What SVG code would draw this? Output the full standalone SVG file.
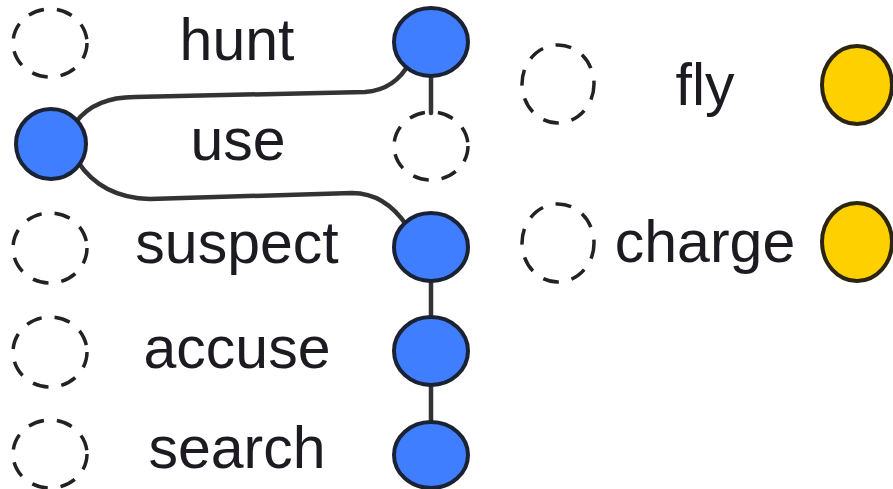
<svg xmlns="http://www.w3.org/2000/svg" width="893" height="489" viewBox="0 0 893 489">
<style>
.lbl{font-family:"Liberation Sans",Arial,sans-serif;font-size:59px;fill:#1e1a22;text-anchor:middle}
.dash{fill:none;stroke:#222;stroke-width:3.5;stroke-dasharray:16 13}
.blue{fill:#3f7fff;stroke:#1b2233;stroke-width:4}
.yel{fill:#ffd000;stroke:#2a2410;stroke-width:4}
.edge{fill:none;stroke:#333;stroke-width:4.5;stroke-linecap:round}
</style>
<rect width="893" height="489" fill="#fff"/>
<g id="connectors">
<path class="edge" d="M 76 122 Q 95 97 135 97 L 365 92 Q 395 90 410 62"/>
<path class="edge" d="M 78 162 Q 102 198 150 199 L 352 193 Q 385 193 407 226"/>
<line class="edge" x1="431" y1="74" x2="431" y2="113"/>
<line class="edge" x1="431" y1="280" x2="431" y2="318"/>
<line class="edge" x1="431" y1="385" x2="431" y2="421"/>
</g>
<g id="row-hunt">
<ellipse class="dash" cx="50" cy="43" rx="37" ry="34"/>
<text class="lbl" x="237" y="60">hunt</text>
<ellipse class="blue" cx="431" cy="42" rx="37" ry="34"/>
</g>
<g id="row-use">
<ellipse class="blue" cx="51" cy="144" rx="35" ry="35"/>
<text class="lbl" x="238" y="160">use</text>
<ellipse class="dash" cx="431" cy="146" rx="37" ry="34"/>
</g>
<g id="row-suspect">
<ellipse class="dash" cx="50" cy="248" rx="37" ry="35"/>
<text class="lbl" x="237" y="263">suspect</text>
<ellipse class="blue" cx="431" cy="247" rx="37" ry="34"/>
</g>
<g id="row-accuse">
<ellipse class="dash" cx="50" cy="352" rx="37" ry="35"/>
<text class="lbl" x="237" y="368">accuse</text>
<ellipse class="blue" cx="431" cy="351" rx="37" ry="34"/>
</g>
<g id="row-search">
<ellipse class="dash" cx="50" cy="454" rx="37" ry="34"/>
<text class="lbl" x="237" y="468">search</text>
<ellipse class="blue" cx="431" cy="455" rx="37" ry="33"/>
</g>
<g id="row-fly">
<ellipse class="dash" cx="558" cy="84" rx="36" ry="39"/>
<text class="lbl" x="705" y="105">fly</text>
<ellipse class="yel" cx="857" cy="85" rx="35" ry="39"/>
</g>
<g id="row-charge">
<ellipse class="dash" cx="558" cy="243" rx="36" ry="39"/>
<text class="lbl" x="705" y="262">charge</text>
<ellipse class="yel" cx="857" cy="242" rx="35" ry="39"/>
</g>
</svg>
